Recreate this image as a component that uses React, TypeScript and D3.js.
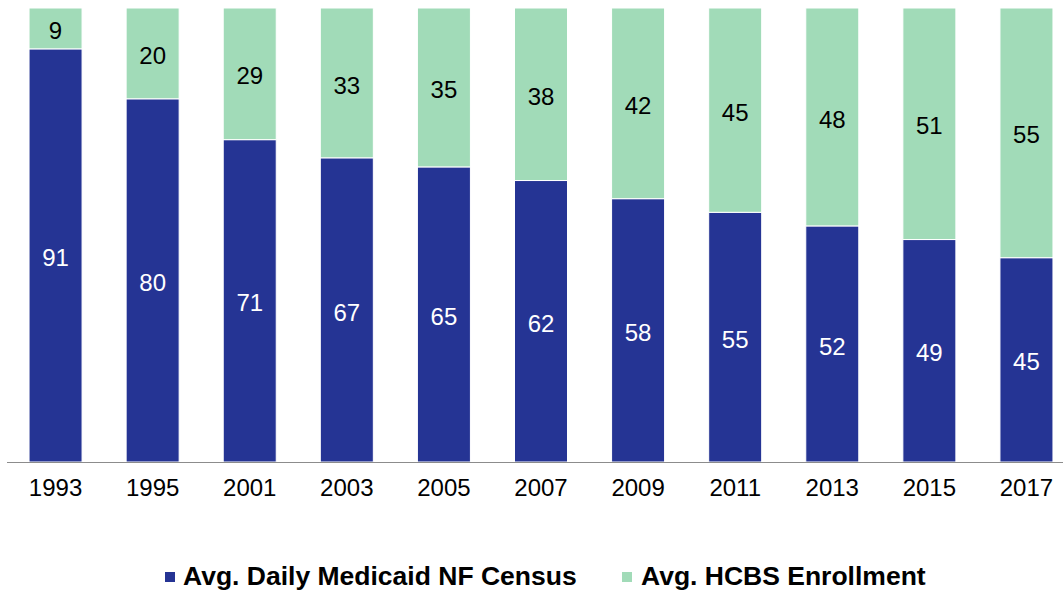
import React from "react";
import * as d3 from "d3";

const WIDTH = 1063;
const HEIGHT = 594;

const years = ["1993", "1995", "2001", "2003", "2005", "2007", "2009", "2011", "2013", "2015", "2017"];
const nfCensus = [91, 80, 71, 67, 65, 62, 58, 55, 52, 49, 45];
const hcbsEnrollment = [9, 20, 29, 33, 35, 38, 42, 45, 48, 51, 55];

const seriesNames = ["Avg. Daily Medicaid NF Census", "Avg. HCBS Enrollment"];
const seriesColors = ["#253494", "#a1dbb8"];
const labelColors = ["#ffffff", "#000000"];

const FONT = "Arial, 'Liberation Sans', sans-serif";

const App = () => {
  // plot area
  const top = 8;
  const baseline = 462;

  const x = d3.scaleBand()
    .domain(years)
    .range([7, 1075])
    .paddingInner(0.454)
    .paddingOuter(0.227);

  const y = d3.scaleLinear().domain([0, 100]).range([baseline, top]);

  const rows = years.map((yr, i) => ({ year: yr, nf: nfCensus[i], hcbs: hcbsEnrollment[i] }));
  const stacked = d3.stack<any>().keys(["nf", "hcbs"])(rows);

  return (
    <svg width={WIDTH} height={HEIGHT} style={{ position: "absolute", left: 0, top: 0 }} fontFamily={FONT}>
      <rect width={WIDTH} height={HEIGHT} fill="#fff" />
      {stacked.map((layer, li) => (
        <g key={layer.key}>
          {layer.map((d) => {
            const yr = d.data.year;
            const y0 = y(d[1]);
            const h = y(d[0]) - y(d[1]);
            const val = d[1] - d[0];
            return (
              <g key={yr}>
                <rect
                  x={x(yr)}
                  y={y0}
                  width={x.bandwidth()}
                  height={h}
                  fill={seriesColors[li]}
                  stroke="#fff"
                  strokeWidth={1}
                />
                <text
                  x={(x(yr) ?? 0) + x.bandwidth() / 2}
                  y={y0 + h / 2 + 2}
                  dy="0.36em"
                  textAnchor="middle"
                  fontSize={24}
                  fill={labelColors[li]}
                >
                  {val}
                </text>
              </g>
            );
          })}
        </g>
      ))}
      <line x1={7} x2={WIDTH} y1={baseline + 0.5} y2={baseline + 0.5} stroke="#8c8c8c" strokeWidth={1} />
      {years.map((yr) => (
        <text
          key={yr}
          x={(x(yr) ?? 0) + x.bandwidth() / 2}
          y={496}
          textAnchor="middle"
          fontSize={24}
          fill="#000"
        >
          {yr}
        </text>
      ))}
      <g>
        <rect x={165} y={572} width={10} height={10} fill={seriesColors[0]} />
        <text x={183} y={585} fontSize={26.5} fontWeight="bold" fill="#000">{seriesNames[0]}</text>
        <rect x={622} y={572} width={10} height={10} fill={seriesColors[1]} />
        <text x={641} y={585} fontSize={26.5} fontWeight="bold" fill="#000">{seriesNames[1]}</text>
      </g>
    </svg>
  );
};

export default App;
